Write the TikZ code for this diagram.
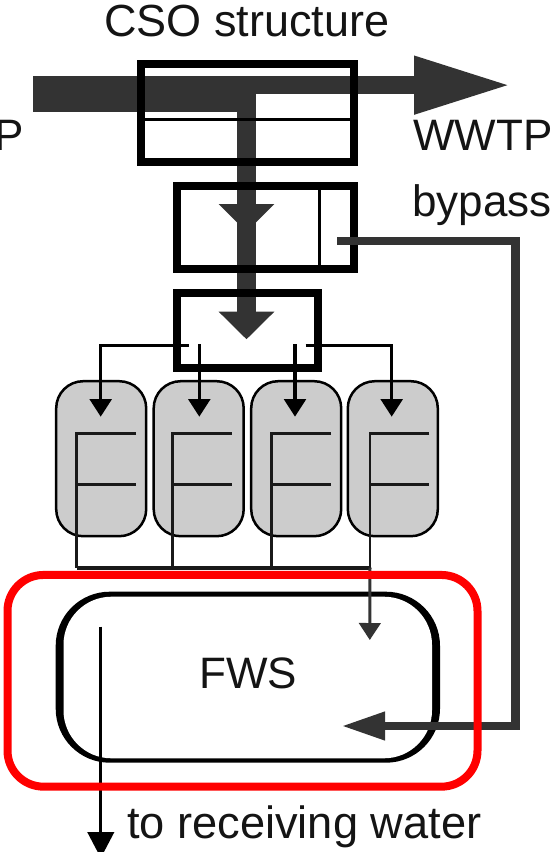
\documentclass[tikz,border=0pt]{standalone}
\usepackage{fontspec}
\setmainfont{Liberation Sans}
\usetikzlibrary{arrows.meta}
\definecolor{flow}{HTML}{333333}
\definecolor{tank}{HTML}{CCCCCC}
\tikzset{
  chamber/.style={draw=black,line width=8pt,minimum width=#1,inner sep=0pt,outer sep=0pt},
  tankbox/.style={draw=black,line width=2.5pt,fill=tank,rounded corners=27pt,minimum width=90pt,minimum height=155pt,inner sep=0pt,outer sep=0pt},
  txt/.style={font=\fontsize{44}{44}\selectfont,inner sep=0pt,text=black!92},
  thin flow/.style={draw=black,line width=3.5pt,-{Triangle[length=17.5pt,width=21.5pt]}},
  pipe/.style={draw=black!90,line width=2.5pt},
}
\begin{document}
\begin{tikzpicture}[x=1pt,y=-1pt]
\useasboundingbox (0,0) rectangle (553,852);
% coordinates of the flows
\coordinate (in) at (33,93.85);
\coordinate (jr) at (237,85.15);
\coordinate (out) at (512,85.15);
\coordinate (v0) at (246.5,85);
\coordinate (v1) at (246.5,232);
\coordinate (v2) at (246.5,339.3);
\coordinate (bp0) at (337,240.8);
\coordinate (bp1) at (515.5,240.8);
\coordinate (bp2) at (515.5,726);
\coordinate (bp3) at (341.5,726);
% main flows
\draw[flow,line width=35.7pt] (in) -- (237,93.85);
\draw[flow,line width=18.3pt,-{Triangle[length=98pt,width=53.4pt]}] (jr) -- (out);
\draw[flow,line width=19pt,-{Triangle[length=27.6pt,width=54pt]}] (v0) -- (v2);
\draw[flow,line width=19pt,-{Triangle[length=28pt,width=54pt]}] (v0) -- (v1);
% chambers
\node[chamber=213.5pt,minimum height=98pt] (cso) at (247.25,112.5) {};
\node[chamber=177pt,minimum height=83pt] (split) at (265.5,227.2) {};
\node[chamber=141pt,minimum height=74.4pt] (dist) at (247.5,330.5) {};
\draw[black,line width=3pt] (cso.west |- 0,119.5) -- (cso.east |- 0,119.5);
\draw[black,line width=3pt] (319,0 |- split.north) -- (319,0 |- split.south);
% tanks
\node[tankbox] (t1) at (101.2,458.7) {};
\node[tankbox] (t2) at (198.7,458.7) {};
\node[tankbox] (t3) at (296.2,458.7) {};
\node[tankbox] (t4) at (392.8,458.7) {};
% feeds
\coordinate (f1) at (188.7,345.7);
\coordinate (f4) at (305.7,345.7);
\coordinate (f2) at (199.3,344);
\coordinate (f3) at (295,344);
\draw[thin flow] (f1) -| (100.7,416.7);
\draw[thin flow] (f2) -- (199.3,416.7);
\draw[thin flow] (f3) -- (295,416.7);
\draw[thin flow] (f4) -| (391.7,416.7);
% tank pipes
\foreach \n/\x/\e in {a/76.7/136,b/172.7/231.7,c/271.7/331,d/370/429.3}{
  \coordinate (top\n) at (\x,433.3);
  \coordinate (mid\n) at (\x,484.7);
  \coordinate (col\n) at (\x,567.7);
  \draw[pipe] (\e,433.3) -- (top\n) -- (col\n);
  \draw[pipe] (mid\n) -- (\e,484.7);
}
\draw[black!90,line width=4pt] (cola) -- (cold);
% FWS
\node[fill=black,rounded corners=54pt,minimum width=384.3pt,minimum height=171pt,inner sep=0pt,outer sep=0pt] (fwsout) at (247.85,677.2) {};
\node[fill=white,rounded corners=48pt,minimum width=368.5pt,minimum height=161.6pt,inner sep=0pt,outer sep=0pt] (fws) at (247.75,677.5) {};
\node[txt,anchor=base] (fwst) at (248,688) {FWS};
% bypass
\draw[flow,line width=8.3pt,-{Triangle[length=43.5pt,width=26.6pt]}] (bp0) -- (bp1) -- (bp2) -- (bp3);
\coordinate (fd) at (369.8,640);
\draw[flow,line width=3pt,-{Triangle[length=17pt,width=21.5pt]}] (cold) -- (fd);
\coordinate (ot0) at (100.8,626.7);
\coordinate (ot1) at (100.8,858);
\draw[black,line width=2.7pt,-{Triangle[length=26pt,width=26.5pt]}] (ot0) -- (ot1);
% highlight
\node[draw=red,line width=8pt,rounded corners=36pt,minimum width=470pt,minimum height=211.7pt,inner sep=0pt,outer sep=0pt] (hl) at (242.5,680.8) {};
% labels
\node[txt,anchor=base west,font=\fontsize{45}{45}\selectfont] (cso text) at (104,36.7) {CSO structure};
\node[txt,anchor=base east] (in text) at (24,150) {P};
\node[txt,anchor=base west] (wwtp) at (413,150) {WWTP};
\node[txt,anchor=base west] (bypass) at (412,216.7) {bypass};
\node[txt,anchor=base west,font=\fontsize{45.2}{45.2}\selectfont] (recv) at (127,838) {to receiving water};
\end{tikzpicture}
\end{document}
